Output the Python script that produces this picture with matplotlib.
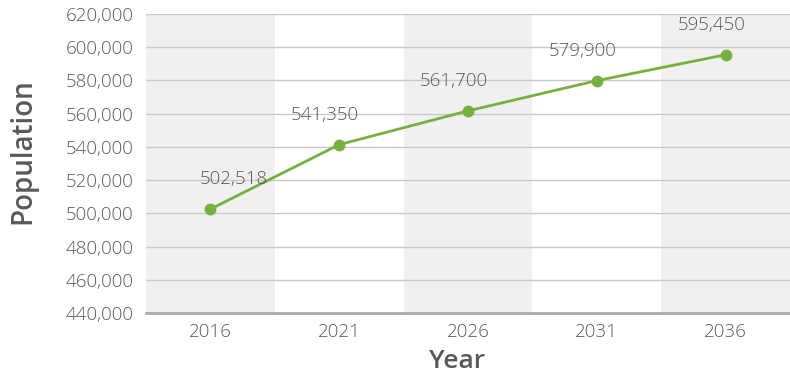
import matplotlib
matplotlib.use("Agg")
import matplotlib.pyplot as plt
from matplotlib.ticker import FuncFormatter

years = ["2016", "2021", "2026", "2031", "2036"]
population = [502518, 541350, 561700, 579900, 595450]
y_ticks = [440000, 460000, 480000, 500000, 520000, 540000, 560000, 580000, 600000, 620000]

green = "#76b041"
text_grey = "#595959"

plt.rcParams['font.family'] = ['Open Sans', 'DejaVu Sans']

W, H = 790, 377
fig = plt.figure(figsize=(W / 100, H / 100), dpi=100)
ax = fig.add_axes([146 / W, 1 - 313 / H, 644 / W, 299 / H])

x = list(range(len(years)))

# alternating shaded columns behind the categories
for i in x:
    if i % 2 == 0:
        ax.axvspan(i - 0.5, i + 0.5, color="#f0f0f0", zorder=0, lw=0)

for t in y_ticks[1:]:
    ax.axhline(t, color="#c8c8c8", lw=1, zorder=1)

ax.plot(x, population, color=green, lw=2, marker="o", markersize=7.5, zorder=3)

# value labels sit above each point, nudged sideways
offsets = [23, -14, -14, -14, -14]
for i, v in enumerate(population):
    ax.annotate(f"{v:,}", (i, v), xytext=(offsets[i] * 0.72, 15), textcoords="offset points",
                ha="center", va="bottom", fontsize=13.5, color=text_grey, fontweight="light")

ax.set_xlim(-0.5, len(years) - 0.5)
ax.set_ylim(440000, 620000)
ax.set_xticks(x)
ax.set_xticklabels(years, fontweight="light")
ax.set_yticks(y_ticks)
ax.yaxis.set_major_formatter(FuncFormatter(lambda v, p: f"{int(v):,}"))
for lbl in ax.get_yticklabels():
    lbl.set_fontweight("light")

for s in ["top", "right", "left"]:
    ax.spines[s].set_visible(False)
ax.spines["bottom"].set_color("#aaaaaa")
ax.spines["bottom"].set_linewidth(2)
ax.tick_params(axis="both", length=0, labelsize=13.5, labelcolor=text_grey)
ax.tick_params(axis="y", pad=9)
ax.tick_params(axis="x", pad=7)

# axis titles placed in figure pixels
fig.text(457 / W, 1 - 361 / H, "Year", fontsize=19, fontweight="semibold", color=text_grey,
         ha="center", va="center")
fig.text(23 / W, 1 - 151 / H, "Population", fontsize=20, fontweight="semibold", color=text_grey,
         ha="center", va="center", rotation=90)

fig.savefig("out.png", dpi=100)
